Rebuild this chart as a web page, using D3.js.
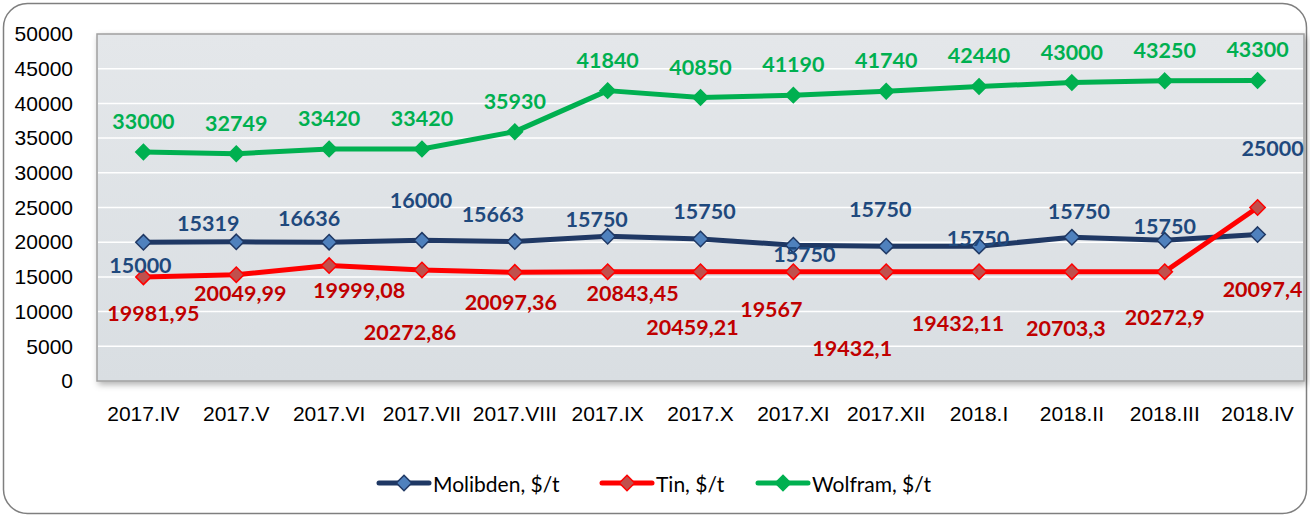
<!DOCTYPE html>
<html lang="en">
<head>
<meta charset="utf-8">
<title>Molibden, Tin, Wolfram prices</title>
<script src="https://cdn.jsdelivr.net/npm/d3@7"></script>
<style>
body { margin: 0; background: #fff; }
svg { display: block; font-family: Lato, "Open Sans", sans-serif; }
.axis text { font-size: 21px; fill: #000; }
.lbl { font-size: 21.5px; font-weight: bold; }
</style>
</head>
<body>
<script>

// categories and values (plotted), and the data labels as printed on the chart
var categories = ["2017.IV", "2017.V", "2017.VI", "2017.VII", "2017.VIII", "2017.IX",
  "2017.X", "2017.XI", "2017.XII", "2018.I", "2018.II", "2018.III", "2018.IV"];
var molibden = [19981.95, 20049.99, 19999.08, 20272.86, 20097.36, 20843.45,
  20459.21, 19567, 19432.1, 19432.11, 20703.3, 20272.9, 21097.4];
var tin = [15000, 15319, 16636, 16000, 15663, 15750, 15750, 15750, 15750, 15750, 15750, 15750, 25000];
var wolfram = [33000, 32749, 33420, 33420, 35930, 41840, 40850, 41190, 41740, 42440, 43000, 43250, 43300];
var molibdenLabels = ["15000", "15319", "16636", "16000", "15663", "15750", "15750",
  "15750", "15750", "15750", "15750", "15750", "25000"];
var tinLabels = ["19981,95", "20049,99", "19999,08", "20272,86", "20097,36", "20843,45",
  "20459,21", "19567", "19432,1", "19432,11", "20703,3", "20272,9", "20097,4"];
var wolframLabels = wolfram.map(String);
var yTicks = [0, 5000, 10000, 15000, 20000, 25000, 30000, 35000, 40000, 45000, 50000];

// hand placed label offsets (px from the point), as in the original
var molibdenShift = [[-3, 23], [-28, -19], [-20, -24], [-1, -40], [-22, -28], [-11, -17], [4, -28],
  [11, 9], [-6, -37], [-1, -8], [7, -26], [0, -14], [15, -87]];
var tinShift = [[10, 36], [4, 18], [30, 24], [-12, 62], [-4, 30], [25, 21], [-8, 55],
  [-22, 37], [-34, 76], [-21, 51], [-6, 56], [0, 45], [5, 81]];

var W = 1310, H = 516;
var plot = {left: 97, right: 1304, top: 34, bottom: 381};

var svg = d3.select("body").append("svg").attr("width", W).attr("height", H);

var defs = svg.append("defs");
var grad = defs.append("linearGradient").attr("id", "bg").attr("x1", 0).attr("y1", 0).attr("x2", 0).attr("y2", 1);
grad.append("stop").attr("offset", "0%").attr("stop-color", "#e4e7ea");
grad.append("stop").attr("offset", "100%").attr("stop-color", "#d9dee2");
var shadow = defs.append("filter").attr("id", "shadow").attr("x", "-5%").attr("y", "-5%").attr("width", "110%").attr("height", "120%");
shadow.append("feDropShadow").attr("dx", 2).attr("dy", 3).attr("stdDeviation", 3).attr("flood-color", "#000").attr("flood-opacity", 0.3);

// outer frame
svg.append("rect")
  .attr("x", 3.5).attr("y", 3.5).attr("width", W - 7).attr("height", H - 6)
  .attr("rx", 24).attr("ry", 24)
  .attr("fill", "#fff").attr("stroke", "#7f7f7f").attr("stroke-width", 1.5);

var x = d3.scaleBand().domain(categories).range([plot.left, plot.right]);
var y = d3.scaleLinear().domain([0, 50000]).range([plot.bottom, plot.top]);
var cx = function(c) { return x(c) + x.bandwidth() / 2; };

// plot area
svg.append("rect")
  .attr("x", plot.left).attr("y", plot.top)
  .attr("width", plot.right - plot.left).attr("height", plot.bottom - plot.top)
  .attr("fill", "url(#bg)").attr("stroke", "#a0a0a0").attr("stroke-width", 1.5)
  .attr("filter", "url(#shadow)");

svg.append("g").selectAll("line")
  .data(yTicks.filter(function(d) { return d > 0 && d < 50000; }))
  .enter().append("line")
  .attr("x1", plot.left + 1).attr("x2", plot.right - 1)
  .attr("y1", function(d) { return y(d); }).attr("y2", function(d) { return y(d); })
  .attr("stroke", "#fff").attr("stroke-width", 1.5);

// axes
var yAxis = svg.append("g").attr("class", "axis")
  .attr("transform", "translate(" + plot.left + ",0)")
  .call(d3.axisLeft(y).tickValues(yTicks).tickSize(0).tickPadding(24).tickFormat(d3.format("d")));
yAxis.select(".domain").remove();

var xAxis = svg.append("g").attr("class", "axis")
  .attr("transform", "translate(0," + plot.bottom + ")")
  .call(d3.axisBottom(x).tickSize(0).tickPadding(25));
xAxis.select(".domain").remove();

// series
var series = [
  {name: "Molibden, $/t", values: molibden, labels: molibdenLabels, shift: molibdenShift,
   line: "#1f3864", fill: "#4f81bd", edge: "#1f3864", text: "#1f497d"},
  {name: "Tin, $/t", values: tin, labels: tinLabels, shift: tinShift,
   line: "#ff0000", fill: "#c0504d", edge: "#ff0000", text: "#c00000"},
  {name: "Wolfram, $/t", values: wolfram, labels: wolframLabels, shift: null,
   line: "#00b050", fill: "#00b050", edge: "#00b050", text: "#00b050"}
];

var diamond = d3.symbol().type(d3.symbolDiamond2).size(150);

var line = d3.line()
  .x(function(d, i) { return cx(categories[i]); })
  .y(function(d) { return y(d); });

series.forEach(function(s) {
  svg.append("path")
    .datum(s.values)
    .attr("d", line)
    .attr("fill", "none").attr("stroke", s.line).attr("stroke-width", 5)
    .attr("stroke-linejoin", "round").attr("stroke-linecap", "round");

  svg.append("g").selectAll("path")
    .data(s.values).enter().append("path")
    .attr("d", diamond)
    .attr("transform", function(d, i) { return "translate(" + cx(categories[i]) + "," + y(d) + ")"; })
    .attr("fill", s.fill).attr("stroke", s.edge).attr("stroke-width", 1.5);
});

series.forEach(function(s) {
  svg.append("g").selectAll("text")
    .data(s.values).enter().append("text")
    .attr("class", "lbl")
    .attr("x", function(d, i) { return cx(categories[i]) + (s.shift ? s.shift[i][0] : 0); })
    .attr("y", function(d, i) { return y(d) + (s.shift ? s.shift[i][1] : -31); })
    .attr("text-anchor", "middle").attr("dominant-baseline", "central")
    .attr("fill", s.text)
    .text(function(d, i) { return s.labels[i]; });
});

// legend
var legendX = [379, 602, 758];
var legend = svg.append("g").attr("transform", "translate(0,483)");
series.forEach(function(s, i) {
  var g = legend.append("g").attr("transform", "translate(" + legendX[i] + ",0)");
  g.append("line").attr("x1", 0).attr("x2", 50).attr("y1", 0).attr("y2", 0)
    .attr("stroke", s.line).attr("stroke-width", 5).attr("stroke-linecap", "round");
  g.append("path").attr("d", diamond).attr("transform", "translate(25,0)")
    .attr("fill", s.fill).attr("stroke", s.edge).attr("stroke-width", 1.5);
  g.append("text").attr("x", 54).attr("y", 0).attr("dominant-baseline", "central")
    .style("font-size", "21px").attr("fill", "#000").text(s.name);
});

</script>
</body>
</html>
